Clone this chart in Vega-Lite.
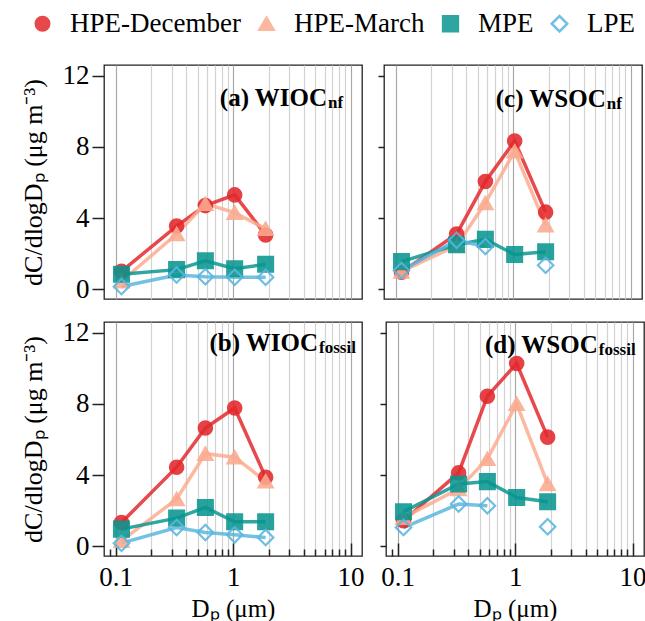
{
  "$schema": "https://vega.github.io/schema/vega-lite/v6.json",
  "padding": {"left": 19, "top": 10, "right": 5, "bottom": 0},
  "background": "white",
  "datasets": {
    "obs": [
      {"panel": "a", "group": "HPE-December", "Dp": 0.112, "value": 1.0},
      {"panel": "a", "group": "HPE-December", "Dp": 0.33, "value": 3.55},
      {"panel": "a", "group": "HPE-December", "Dp": 0.58, "value": 4.7},
      {"panel": "a", "group": "HPE-December", "Dp": 1.03, "value": 5.3},
      {"panel": "a", "group": "HPE-December", "Dp": 1.89, "value": 3.05},
      {"panel": "a", "group": "HPE-March", "Dp": 0.112, "value": 0.45},
      {"panel": "a", "group": "HPE-March", "Dp": 0.33, "value": 3.1},
      {"panel": "a", "group": "HPE-March", "Dp": 0.58, "value": 4.8},
      {"panel": "a", "group": "HPE-March", "Dp": 1.03, "value": 4.3},
      {"panel": "a", "group": "HPE-March", "Dp": 1.89, "value": 3.4},
      {"panel": "a", "group": "MPE", "Dp": 0.112, "value": 0.84},
      {"panel": "a", "group": "MPE", "Dp": 0.33, "value": 1.1},
      {"panel": "a", "group": "MPE", "Dp": 0.58, "value": 1.6},
      {"panel": "a", "group": "MPE", "Dp": 1.03, "value": 1.15},
      {"panel": "a", "group": "MPE", "Dp": 1.89, "value": 1.4},
      {"panel": "a", "group": "LPE", "Dp": 0.112, "value": 0.15},
      {"panel": "a", "group": "LPE", "Dp": 0.33, "value": 0.8},
      {"panel": "a", "group": "LPE", "Dp": 0.58, "value": 0.7},
      {"panel": "a", "group": "LPE", "Dp": 1.03, "value": 0.67},
      {"panel": "a", "group": "LPE", "Dp": 1.89, "value": 0.67},

      {"panel": "b", "group": "HPE-December", "Dp": 0.112, "value": 1.33},
      {"panel": "b", "group": "HPE-December", "Dp": 0.33, "value": 4.44},
      {"panel": "b", "group": "HPE-December", "Dp": 0.58, "value": 6.64},
      {"panel": "b", "group": "HPE-December", "Dp": 1.03, "value": 7.77},
      {"panel": "b", "group": "HPE-December", "Dp": 1.89, "value": 3.87},
      {"panel": "b", "group": "HPE-March", "Dp": 0.112, "value": 0.3},
      {"panel": "b", "group": "HPE-March", "Dp": 0.33, "value": 2.65},
      {"panel": "b", "group": "HPE-March", "Dp": 0.58, "value": 5.2},
      {"panel": "b", "group": "HPE-March", "Dp": 1.03, "value": 5.0},
      {"panel": "b", "group": "HPE-March", "Dp": 1.89, "value": 3.65},
      {"panel": "b", "group": "MPE", "Dp": 0.112, "value": 0.96},
      {"panel": "b", "group": "MPE", "Dp": 0.33, "value": 1.58},
      {"panel": "b", "group": "MPE", "Dp": 0.58, "value": 2.18},
      {"panel": "b", "group": "MPE", "Dp": 1.03, "value": 1.37},
      {"panel": "b", "group": "MPE", "Dp": 1.89, "value": 1.37},
      {"panel": "b", "group": "LPE", "Dp": 0.112, "value": 0.17},
      {"panel": "b", "group": "LPE", "Dp": 0.33, "value": 1.05},
      {"panel": "b", "group": "LPE", "Dp": 0.58, "value": 0.77},
      {"panel": "b", "group": "LPE", "Dp": 1.03, "value": 0.64},
      {"panel": "b", "group": "LPE", "Dp": 1.89, "value": 0.49},

      {"panel": "c", "group": "HPE-December", "Dp": 0.112, "value": 0.95},
      {"panel": "c", "group": "HPE-December", "Dp": 0.33, "value": 3.1},
      {"panel": "c", "group": "HPE-December", "Dp": 0.58, "value": 6.05},
      {"panel": "c", "group": "HPE-December", "Dp": 1.03, "value": 8.33},
      {"panel": "c", "group": "HPE-December", "Dp": 1.89, "value": 4.33},
      {"panel": "c", "group": "HPE-March", "Dp": 0.112, "value": 1.0},
      {"panel": "c", "group": "HPE-March", "Dp": 0.33, "value": 2.45},
      {"panel": "c", "group": "HPE-March", "Dp": 0.58, "value": 4.85},
      {"panel": "c", "group": "HPE-March", "Dp": 1.03, "value": 7.75},
      {"panel": "c", "group": "HPE-March", "Dp": 1.89, "value": 3.6},
      {"panel": "c", "group": "MPE", "Dp": 0.112, "value": 1.55},
      {"panel": "c", "group": "MPE", "Dp": 0.33, "value": 2.5},
      {"panel": "c", "group": "MPE", "Dp": 0.58, "value": 2.8},
      {"panel": "c", "group": "MPE", "Dp": 1.03, "value": 1.95},
      {"panel": "c", "group": "MPE", "Dp": 1.89, "value": 2.1},
      {"panel": "c", "group": "LPE", "Dp": 0.112, "value": 1.05},
      {"panel": "c", "group": "LPE", "Dp": 0.33, "value": 2.75},
      {"panel": "c", "group": "LPE", "Dp": 0.58, "value": 2.4},
      {"panel": "c", "group": "LPE", "Dp": 1.03, "value": null},
      {"panel": "c", "group": "LPE", "Dp": 1.89, "value": 1.35},

      {"panel": "d", "group": "HPE-December", "Dp": 0.112, "value": 1.43},
      {"panel": "d", "group": "HPE-December", "Dp": 0.33, "value": 4.12},
      {"panel": "d", "group": "HPE-December", "Dp": 0.58, "value": 8.43},
      {"panel": "d", "group": "HPE-December", "Dp": 1.03, "value": 10.27},
      {"panel": "d", "group": "HPE-December", "Dp": 1.89, "value": 6.13},
      {"panel": "d", "group": "HPE-March", "Dp": 0.112, "value": 1.6},
      {"panel": "d", "group": "HPE-March", "Dp": 0.33, "value": 3.22},
      {"panel": "d", "group": "HPE-March", "Dp": 0.58, "value": 4.91},
      {"panel": "d", "group": "HPE-March", "Dp": 1.03, "value": 8.0},
      {"panel": "d", "group": "HPE-March", "Dp": 1.89, "value": 3.5},
      {"panel": "d", "group": "MPE", "Dp": 0.112, "value": 1.94},
      {"panel": "d", "group": "MPE", "Dp": 0.33, "value": 3.5},
      {"panel": "d", "group": "MPE", "Dp": 0.58, "value": 3.63},
      {"panel": "d", "group": "MPE", "Dp": 1.03, "value": 2.74},
      {"panel": "d", "group": "MPE", "Dp": 1.89, "value": 2.5},
      {"panel": "d", "group": "LPE", "Dp": 0.112, "value": 1.05},
      {"panel": "d", "group": "LPE", "Dp": 0.33, "value": 2.37},
      {"panel": "d", "group": "LPE", "Dp": 0.58, "value": 2.27},
      {"panel": "d", "group": "LPE", "Dp": 1.03, "value": null},
      {"panel": "d", "group": "LPE", "Dp": 1.89, "value": 1.09}
    ],
    "labels": [
      {"panel": "a", "main": "(a) WIOC", "sub": "nf"},
      {"panel": "b", "main": "(b) WIOC", "sub": "fossil"},
      {"panel": "c", "main": "(c) WSOC", "sub": "nf"},
      {"panel": "d", "main": "(d) WSOC", "sub": "fossil"}
    ]
  },
  "config": {
    "font": "Liberation Serif",
    "view": {"stroke": "#222222", "strokeWidth": 1.3},
    "axis": {
      "labelFont": "Liberation Serif",
      "titleFont": "Liberation Serif",
      "labelColor": "#000000",
      "titleColor": "#000000",
      "titleFontWeight": "normal",
      "tickColor": "#222222",
      "tickWidth": 1.5,
      "domain": false
    },
    "legend": {
      "orient": "none",
      "legendX": -75,
      "legendY": -55,
      "direction": "horizontal",
      "title": null,
      "labelFont": "Liberation Serif",
      "labelFontSize": 27,
      "labelLimit": 0,
      "labelColor": "#000000",
      "symbolStrokeWidth": 2.5,
      "columnPadding": 12,
      "labelOffset": 14
    }
  },
  "spacing": 15,
  "vconcat": [
    {
      "spacing": 13,
      "hconcat": [
        {
          "width": 258,
          "height": 234,
          "layer": [
            {
              "data": {"name": "obs"},
              "transform": [{"filter": "datum.panel === 'a'"}],
              "mark": {"type": "line", "strokeWidth": 3.5, "opacity": 0.85, "invalid": "break-paths-show-domains"},
              "encoding": {
                "x": {"field": "Dp", "type": "quantitative", "scale": {"type": "log", "domain": [0.0795, 12.5], "nice": false},
                  "axis": {"values": [0.09, 0.1, 0.2, 0.3, 0.4, 0.5, 0.6, 0.7, 0.8, 0.9, 1, 2, 3, 4, 5, 6, 7, 8, 9, 10], "labels": false, "ticks": false, "title": null, "grid": true,
                    "gridColor": {"condition": {"test": "datum.value == 0.1 || datum.value == 1 || datum.value == 10", "value": "#a8a8a8"}, "value": "#d2d2d2"},
                    "gridOpacity": {"condition": {"test": "datum.value < 0.095", "value": 0}, "value": 1}, "gridWidth": 1.2}},
                "y": {"field": "value", "type": "quantitative", "scale": {"domain": [-0.55, 12.6], "nice": false, "zero": false},
                  "axis": {"values": [0, 4, 8, 12], "grid": false, "tickSize": 12, "labelPadding": 3, "labelFontSize": 27, "title": "dC/dlogDₚ (μg m⁻³)", "titleFontSize": 26, "titlePadding": 16}},
                "stroke": {"field": "group", "type": "nominal", "scale": {"domain": ["HPE-December", "HPE-March", "MPE", "LPE"], "range": ["#e3292d", "#fbab8f", "#0a9690", "#5ab6de"]}}
              }
            },
            {
              "data": {"name": "obs"},
              "transform": [{"filter": "datum.panel === 'a' && datum.value != null"}],
              "mark": {"type": "point", "strokeWidth": 2.2, "opacity": 0.88},
              "encoding": {
                "x": {"field": "Dp", "type": "quantitative"},
                "y": {"field": "value", "type": "quantitative"},
                "stroke": {"field": "group", "type": "nominal"},
                "fill": {"field": "group", "type": "nominal", "scale": {"domain": ["HPE-December", "HPE-March", "MPE", "LPE"], "range": ["#e3292d", "#fbab8f", "#0a9690", "rgba(255,255,255,0)"]}},
                "shape": {"field": "group", "type": "nominal", "scale": {"domain": ["HPE-December", "HPE-March", "MPE", "LPE"], "range": ["circle", "triangle-up", "square", "diamond"]}},
                "size": {"field": "group", "type": "nominal", "scale": {"domain": ["HPE-December", "HPE-March", "MPE", "LPE"], "range": [180, 240, 150, 300]}}
              }
            },
            {
              "data": {"name": "labels"},
              "transform": [{"filter": "datum.panel === 'a'"}],
              "mark": {"type": "text", "align": "right", "baseline": "alphabetic", "fontWeight": "bold", "fontSize": 25, "font": "Liberation Serif", "color": "#000000"},
              "encoding": {"x": {"datum": 6.3, "type": "quantitative"}, "y": {"datum": 10.28, "type": "quantitative"}, "text": {"field": "main"}}
            },
            {
              "data": {"name": "labels"},
              "transform": [{"filter": "datum.panel === 'a'"}],
              "mark": {"type": "text", "align": "left", "baseline": "alphabetic", "fontWeight": "bold", "fontSize": 17, "font": "Liberation Serif", "color": "#000000", "dx": 1, "dy": 2},
              "encoding": {"x": {"datum": 6.3, "type": "quantitative"}, "y": {"datum": 10.28, "type": "quantitative"}, "text": {"field": "sub"}}
            }
          ]
        },
        {
          "width": 258,
          "height": 234,
          "layer": [
            {
              "data": {"name": "obs"},
              "transform": [{"filter": "datum.panel === 'c'"}],
              "mark": {"type": "line", "strokeWidth": 3.5, "opacity": 0.85, "invalid": "break-paths-show-domains"},
              "encoding": {
                "x": {"field": "Dp", "type": "quantitative", "scale": {"type": "log", "domain": [0.0795, 12.5], "nice": false},
                  "axis": {"values": [0.09, 0.1, 0.2, 0.3, 0.4, 0.5, 0.6, 0.7, 0.8, 0.9, 1, 2, 3, 4, 5, 6, 7, 8, 9, 10], "labels": false, "ticks": false, "title": null, "grid": true,
                    "gridColor": {"condition": {"test": "datum.value == 0.1 || datum.value == 1 || datum.value == 10", "value": "#a8a8a8"}, "value": "#d2d2d2"},
                    "gridOpacity": {"condition": {"test": "datum.value < 0.095", "value": 0}, "value": 1}, "gridWidth": 1.2}},
                "y": {"field": "value", "type": "quantitative", "scale": {"domain": [-0.55, 12.6], "nice": false, "zero": false},
                  "axis": {"values": [0, 4, 8, 12], "grid": false, "tickSize": 6, "labels": false, "title": null}},
                "stroke": {"field": "group", "type": "nominal", "scale": {"domain": ["HPE-December", "HPE-March", "MPE", "LPE"], "range": ["#e3292d", "#fbab8f", "#0a9690", "#5ab6de"]}}
              }
            },
            {
              "data": {"name": "obs"},
              "transform": [{"filter": "datum.panel === 'c' && datum.value != null"}],
              "mark": {"type": "point", "strokeWidth": 2.2, "opacity": 0.88},
              "encoding": {
                "x": {"field": "Dp", "type": "quantitative"},
                "y": {"field": "value", "type": "quantitative"},
                "stroke": {"field": "group", "type": "nominal"},
                "fill": {"field": "group", "type": "nominal", "scale": {"domain": ["HPE-December", "HPE-March", "MPE", "LPE"], "range": ["#e3292d", "#fbab8f", "#0a9690", "rgba(255,255,255,0)"]}},
                "shape": {"field": "group", "type": "nominal", "scale": {"domain": ["HPE-December", "HPE-March", "MPE", "LPE"], "range": ["circle", "triangle-up", "square", "diamond"]}},
                "size": {"field": "group", "type": "nominal", "scale": {"domain": ["HPE-December", "HPE-March", "MPE", "LPE"], "range": [180, 240, 150, 300]}}
              }
            },
            {
              "data": {"name": "labels"},
              "transform": [{"filter": "datum.panel === 'c'"}],
              "mark": {"type": "text", "align": "right", "baseline": "alphabetic", "fontWeight": "bold", "fontSize": 25, "font": "Liberation Serif", "color": "#000000"},
              "encoding": {"x": {"datum": 6.14, "type": "quantitative"}, "y": {"datum": 10.22, "type": "quantitative"}, "text": {"field": "main"}}
            },
            {
              "data": {"name": "labels"},
              "transform": [{"filter": "datum.panel === 'c'"}],
              "mark": {"type": "text", "align": "left", "baseline": "alphabetic", "fontWeight": "bold", "fontSize": 17, "font": "Liberation Serif", "color": "#000000", "dx": 1, "dy": 2},
              "encoding": {"x": {"datum": 6.14, "type": "quantitative"}, "y": {"datum": 10.22, "type": "quantitative"}, "text": {"field": "sub"}}
            }
          ]
        }
      ]
    },
    {
      "spacing": 13,
      "hconcat": [
        {
          "width": 258,
          "height": 234,
          "layer": [
            {
              "data": {"name": "obs"},
              "transform": [{"filter": "datum.panel === 'b'"}],
              "mark": {"type": "line", "strokeWidth": 3.5, "opacity": 0.85, "invalid": "break-paths-show-domains"},
              "encoding": {
                "x": {"field": "Dp", "type": "quantitative", "scale": {"type": "log", "domain": [0.0795, 12.5], "nice": false},
                  "axis": {"values": [0.09, 0.1, 0.2, 0.3, 0.4, 0.5, 0.6, 0.7, 0.8, 0.9, 1, 2, 3, 4, 5, 6, 7, 8, 9, 10], "format": "~g",
                    "labelExpr": "(datum.value == 0.1 || datum.value == 1 || datum.value == 10) ? datum.label : ''",
                    "labelFontSize": 27, "labelPadding": 21, "labelOverlap": false, "labelFlush": false,
                    "tickSize": {"condition": {"test": "datum.value == 0.1 || datum.value == 1 || datum.value == 10", "value": -13}, "value": -7},
                    "title": "Dₚ (μm)", "titleFontSize": 25, "titlePadding": 0, "grid": true,
                    "gridColor": {"condition": {"test": "datum.value == 0.1 || datum.value == 1 || datum.value == 10", "value": "#a8a8a8"}, "value": "#d2d2d2"},
                    "gridOpacity": {"condition": {"test": "datum.value < 0.095", "value": 0}, "value": 1}, "gridWidth": 1.2}},
                "y": {"field": "value", "type": "quantitative", "scale": {"domain": [-0.55, 12.6], "nice": false, "zero": false},
                  "axis": {"values": [0, 4, 8, 12], "grid": false, "tickSize": 12, "labelPadding": 3, "labelFontSize": 27, "title": "dC/dlogDₚ (μg m⁻³)", "titleFontSize": 26, "titlePadding": 16}},
                "stroke": {"field": "group", "type": "nominal", "scale": {"domain": ["HPE-December", "HPE-March", "MPE", "LPE"], "range": ["#e3292d", "#fbab8f", "#0a9690", "#5ab6de"]}}
              }
            },
            {
              "data": {"name": "obs"},
              "transform": [{"filter": "datum.panel === 'b' && datum.value != null"}],
              "mark": {"type": "point", "strokeWidth": 2.2, "opacity": 0.88},
              "encoding": {
                "x": {"field": "Dp", "type": "quantitative"},
                "y": {"field": "value", "type": "quantitative"},
                "stroke": {"field": "group", "type": "nominal"},
                "fill": {"field": "group", "type": "nominal", "scale": {"domain": ["HPE-December", "HPE-March", "MPE", "LPE"], "range": ["#e3292d", "#fbab8f", "#0a9690", "rgba(255,255,255,0)"]}},
                "shape": {"field": "group", "type": "nominal", "scale": {"domain": ["HPE-December", "HPE-March", "MPE", "LPE"], "range": ["circle", "triangle-up", "square", "diamond"]}},
                "size": {"field": "group", "type": "nominal", "scale": {"domain": ["HPE-December", "HPE-March", "MPE", "LPE"], "range": [180, 240, 150, 300]}}
              }
            },
            {
              "data": {"name": "labels"},
              "transform": [{"filter": "datum.panel === 'b'"}],
              "mark": {"type": "text", "align": "right", "baseline": "alphabetic", "fontWeight": "bold", "fontSize": 25, "font": "Liberation Serif", "color": "#000000"},
              "encoding": {"x": {"datum": 5.28, "type": "quantitative"}, "y": {"datum": 10.96, "type": "quantitative"}, "text": {"field": "main"}}
            },
            {
              "data": {"name": "labels"},
              "transform": [{"filter": "datum.panel === 'b'"}],
              "mark": {"type": "text", "align": "left", "baseline": "alphabetic", "fontWeight": "bold", "fontSize": 17, "font": "Liberation Serif", "color": "#000000", "dx": 1, "dy": 2},
              "encoding": {"x": {"datum": 5.28, "type": "quantitative"}, "y": {"datum": 10.96, "type": "quantitative"}, "text": {"field": "sub"}}
            }
          ]
        },
        {
          "width": 258,
          "height": 234,
          "layer": [
            {
              "data": {"name": "obs"},
              "transform": [{"filter": "datum.panel === 'd'"}],
              "mark": {"type": "line", "strokeWidth": 3.5, "opacity": 0.85, "invalid": "break-paths-show-domains"},
              "encoding": {
                "x": {"field": "Dp", "type": "quantitative", "scale": {"type": "log", "domain": [0.0795, 12.5], "nice": false},
                  "axis": {"values": [0.09, 0.1, 0.2, 0.3, 0.4, 0.5, 0.6, 0.7, 0.8, 0.9, 1, 2, 3, 4, 5, 6, 7, 8, 9, 10], "format": "~g",
                    "labelExpr": "(datum.value == 0.1 || datum.value == 1 || datum.value == 10) ? datum.label : ''",
                    "labelFontSize": 27, "labelPadding": 21, "labelOverlap": false, "labelFlush": false,
                    "tickSize": {"condition": {"test": "datum.value == 0.1 || datum.value == 1 || datum.value == 10", "value": -13}, "value": -7},
                    "title": "Dₚ (μm)", "titleFontSize": 25, "titlePadding": 0, "grid": true,
                    "gridColor": {"condition": {"test": "datum.value == 0.1 || datum.value == 1 || datum.value == 10", "value": "#a8a8a8"}, "value": "#d2d2d2"},
                    "gridOpacity": {"condition": {"test": "datum.value < 0.095", "value": 0}, "value": 1}, "gridWidth": 1.2}},
                "y": {"field": "value", "type": "quantitative", "scale": {"domain": [-0.55, 12.6], "nice": false, "zero": false},
                  "axis": {"values": [0, 4, 8, 12], "grid": false, "tickSize": 6, "labels": false, "title": null}},
                "stroke": {"field": "group", "type": "nominal", "scale": {"domain": ["HPE-December", "HPE-March", "MPE", "LPE"], "range": ["#e3292d", "#fbab8f", "#0a9690", "#5ab6de"]}}
              }
            },
            {
              "data": {"name": "obs"},
              "transform": [{"filter": "datum.panel === 'd' && datum.value != null"}],
              "mark": {"type": "point", "strokeWidth": 2.2, "opacity": 0.88},
              "encoding": {
                "x": {"field": "Dp", "type": "quantitative"},
                "y": {"field": "value", "type": "quantitative"},
                "stroke": {"field": "group", "type": "nominal"},
                "fill": {"field": "group", "type": "nominal", "scale": {"domain": ["HPE-December", "HPE-March", "MPE", "LPE"], "range": ["#e3292d", "#fbab8f", "#0a9690", "rgba(255,255,255,0)"]}},
                "shape": {"field": "group", "type": "nominal", "scale": {"domain": ["HPE-December", "HPE-March", "MPE", "LPE"], "range": ["circle", "triangle-up", "square", "diamond"]}},
                "size": {"field": "group", "type": "nominal", "scale": {"domain": ["HPE-December", "HPE-March", "MPE", "LPE"], "range": [180, 240, 150, 300]}}
              }
            },
            {
              "data": {"name": "labels"},
              "transform": [{"filter": "datum.panel === 'd'"}],
              "mark": {"type": "text", "align": "right", "baseline": "alphabetic", "fontWeight": "bold", "fontSize": 25, "font": "Liberation Serif", "color": "#000000"},
              "encoding": {"x": {"datum": 5.05, "type": "quantitative"}, "y": {"datum": 10.87, "type": "quantitative"}, "text": {"field": "main"}}
            },
            {
              "data": {"name": "labels"},
              "transform": [{"filter": "datum.panel === 'd'"}],
              "mark": {"type": "text", "align": "left", "baseline": "alphabetic", "fontWeight": "bold", "fontSize": 17, "font": "Liberation Serif", "color": "#000000", "dx": 1, "dy": 2},
              "encoding": {"x": {"datum": 5.05, "type": "quantitative"}, "y": {"datum": 10.87, "type": "quantitative"}, "text": {"field": "sub"}}
            }
          ]
        }
      ]
    }
  ]
}
